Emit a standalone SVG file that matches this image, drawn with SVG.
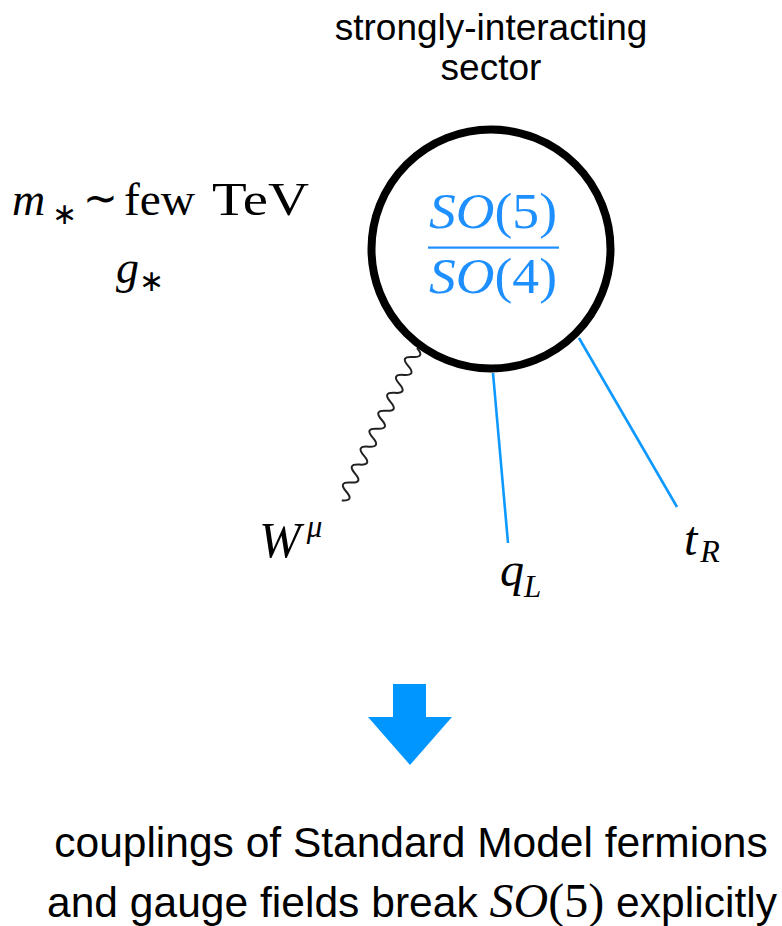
<svg xmlns="http://www.w3.org/2000/svg" width="782" height="926" viewBox="0 0 782 926">
<style>
.sans{font-family:"Liberation Sans",Arial,sans-serif;fill:#000}
.math{font-family:"Liberation Serif","Times New Roman",serif;fill:#000}
.it{font-style:italic}
.blue{fill:#1e8fff}
.fline{stroke:#0d99ff;stroke-width:2.6;fill:none}
</style>
<rect width="782" height="926" fill="#fff"/>
<g id="title">
<text class="sans" font-size="37" text-anchor="middle" x="491" y="40">strongly-interacting</text>
<text class="sans" font-size="37" text-anchor="middle" x="491" y="80">sector</text>
</g>
<g id="params">
<text class="math it" font-size="46" x="12" y="215">m</text>
<text class="math" font-size="30" x="52" y="224">∗</text>
<text class="math" font-size="44" x="83" y="213" textLength="35" lengthAdjust="spacingAndGlyphs">∼</text>
<text class="math" font-size="46" x="124" y="215" textLength="71" lengthAdjust="spacingAndGlyphs">few</text>
<text class="math" font-size="46" x="212" y="215" textLength="97" lengthAdjust="spacingAndGlyphs">TeV</text>
<text class="math it" font-size="46" x="116" y="283">g</text>
<text class="math" font-size="30" x="139" y="291">∗</text>
</g>
<g id="connectors">
<path d="M0,0 q5,-12 10,0 t10,0 t10,0 t10,0 t10,0 t10,0 t10,0 t10,0 t10,0 t10,0 t10,0 t10,0 t10,0 t10,0 t10,0 t10,0 t10,0" fill="none" stroke="#222" stroke-width="2" transform="translate(417,348) rotate(116.26)"/>
<line class="fline" x1="493" y1="373" x2="508" y2="543"/>
<line class="fline" x1="579" y1="338" x2="677" y2="507"/>
</g>
<g id="sector">
<circle cx="491" cy="249" r="119.5" fill="#fff" stroke="#000" stroke-width="8"/>
<text class="math blue" font-size="50" text-anchor="middle" x="493" y="228" textLength="128" lengthAdjust="spacingAndGlyphs"><tspan class="it">SO</tspan>(5)</text>
<rect x="428" y="246.5" width="131" height="2.2" fill="#1e8fff"/>
<text class="math blue" font-size="50" text-anchor="middle" x="493" y="293" textLength="128" lengthAdjust="spacingAndGlyphs"><tspan class="it">SO</tspan>(4)</text>
</g>
<g id="W">
<text class="math" font-size="50" x="259" y="557"><tspan class="it">W</tspan><tspan class="it" font-size="31" dy="-20" dx="6">μ</tspan></text>
</g>
<g id="qL">
<text class="math" font-size="48" x="500" y="586"><tspan class="it">q</tspan><tspan class="it" font-size="31" dy="11">L</tspan></text>
</g>
<g id="tR">
<text class="math" font-size="48" x="684" y="555"><tspan class="it">t</tspan><tspan class="it" font-size="32" dy="7" dx="3">R</tspan></text>
</g>
<g id="arrow">
<polygon points="393,684 426,684 426,717 452,717 410,765 368,717 393,717" fill="#0096ff"/>
</g>
<g id="caption">
<text class="sans" font-size="42.5" text-anchor="middle" x="411" y="857">couplings of Standard Model fermions</text>
<text class="sans" font-size="42.5" text-anchor="middle" x="412" y="917" textLength="730" lengthAdjust="spacing">and gauge fields break <tspan class="math it" font-size="48">SO</tspan><tspan class="math" font-size="48">(5)</tspan> explicitly</text>
</g>
</svg>
